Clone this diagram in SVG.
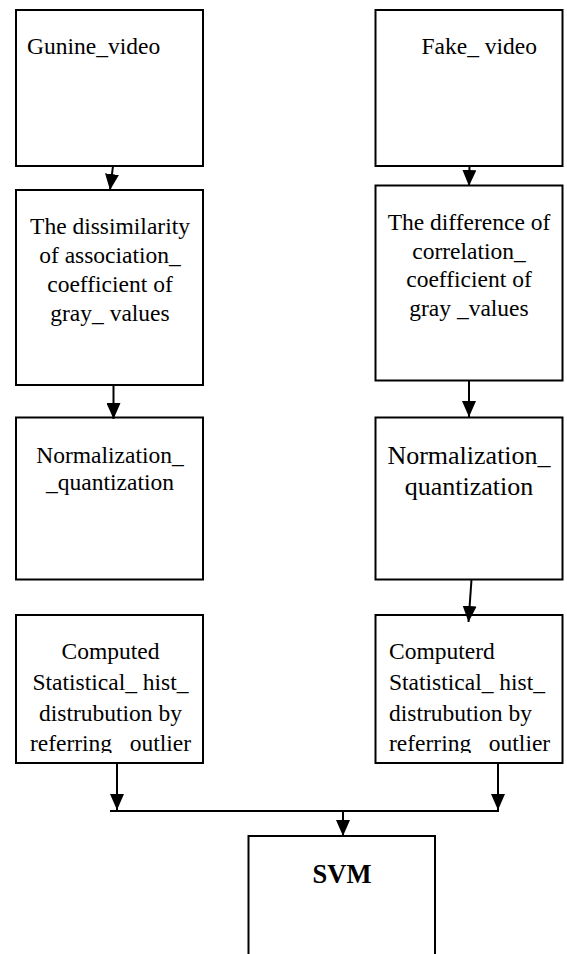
<svg xmlns="http://www.w3.org/2000/svg" width="567" height="954" viewBox="0 0 567 954">
<style>
.box{fill:#fff;stroke:#000;stroke-width:2}
.t{font-family:"Liberation Serif","Times New Roman",serif;font-size:23.5px;fill:#000}
.c{text-anchor:middle}
.ln{stroke:#000;stroke-width:2;fill:none}
</style>
<defs>
<marker id="ah" markerUnits="userSpaceOnUse" markerWidth="16" markerHeight="14" refX="16" refY="7" orient="auto">
<path d="M0,0 L16,7 L0,14 Z" fill="#000"/>
</marker>
<clipPath id="clipL"><rect x="16" y="616" width="187" height="137"/></clipPath>
<clipPath id="clipR"><rect x="376" y="616" width="186" height="137"/></clipPath>
</defs>
<rect width="567" height="954" fill="#fff"/>
<g id="gunine">
<rect class="box" x="16" y="10" width="187" height="156"/>
<text class="t" x="27" y="54">Gunine_video</text>
</g>
<g id="fake">
<rect class="box" x="375.5" y="10" width="187" height="156"/>
<text class="t" x="421.5" y="54">Fake_ video</text>
</g>
<g id="dissimilarity">
<rect class="box" x="16" y="190" width="187" height="195"/>
<text class="t c" x="110" y="234">The dissimilarity</text>
<text class="t c" x="110" y="263">of association_</text>
<text class="t c" x="110" y="292">coefficient of</text>
<text class="t c" x="110" y="321">gray_ values</text>
</g>
<g id="difference">
<rect class="box" x="375.5" y="185.5" width="187" height="195"/>
<text class="t c" x="469" y="229.5">The difference of</text>
<text class="t c" x="469" y="258.5">correlation_</text>
<text class="t c" x="469" y="287">coefficient of</text>
<text class="t c" x="469" y="316">gray _values</text>
</g>
<g id="norm-left">
<rect class="box" x="16" y="417.5" width="187" height="162"/>
<text class="t c" x="110" y="462.5">Normalization_</text>
<text class="t c" x="110" y="490">_quantization</text>
</g>
<g id="norm-right">
<rect class="box" x="375.5" y="417.5" width="187" height="162"/>
<text class="t c" x="469" y="464" style="font-size:26px">Normalization_</text>
<text class="t c" x="469" y="495" style="font-size:26px">quantization</text>
</g>
<g id="hist-left">
<rect class="box" x="16" y="615" width="187" height="148"/>
<g clip-path="url(#clipL)">
<text class="t c" x="110.5" y="659">Computed</text>
<text class="t c" x="110.5" y="690">Statistical_ hist_</text>
<text class="t c" x="110.5" y="721">distrubution by</text>
<text class="t c" x="110.5" y="751">referring_ outlier</text>
</g>
</g>
<g id="hist-right">
<rect class="box" x="375.5" y="615" width="187" height="148"/>
<g clip-path="url(#clipR)">
<text class="t" x="389" y="659">Computerd</text>
<text class="t" x="389" y="690">Statistical_ hist_</text>
<text class="t" x="389" y="721">distrubution by</text>
<text class="t" x="389" y="751">referring_ outlier</text>
</g>
</g>
<g id="svm">
<path class="ln" d="M248.5,960 V836 H435 V960"/>
<text class="t c" x="342" y="883" style="font-size:26.5px;font-weight:bold">SVM</text>
</g>
<g id="connectors">
<line class="ln" x1="113" y1="166" x2="110" y2="190" marker-end="url(#ah)"/>
<line class="ln" x1="469.5" y1="166" x2="469" y2="186" marker-end="url(#ah)"/>
<line class="ln" x1="113.5" y1="385" x2="113.5" y2="419" marker-end="url(#ah)"/>
<line class="ln" x1="469" y1="381" x2="469" y2="417" marker-end="url(#ah)"/>
<line class="ln" x1="471.5" y1="579.5" x2="468.5" y2="622" marker-end="url(#ah)"/>
<line class="ln" x1="117" y1="763" x2="117" y2="810" marker-end="url(#ah)"/>
<line class="ln" x1="498" y1="763" x2="498" y2="810" marker-end="url(#ah)"/>
<line class="ln" x1="110" y1="811" x2="499" y2="811"/>
<line class="ln" x1="343" y1="811" x2="343" y2="836" marker-end="url(#ah)"/>
</g>
</svg>
